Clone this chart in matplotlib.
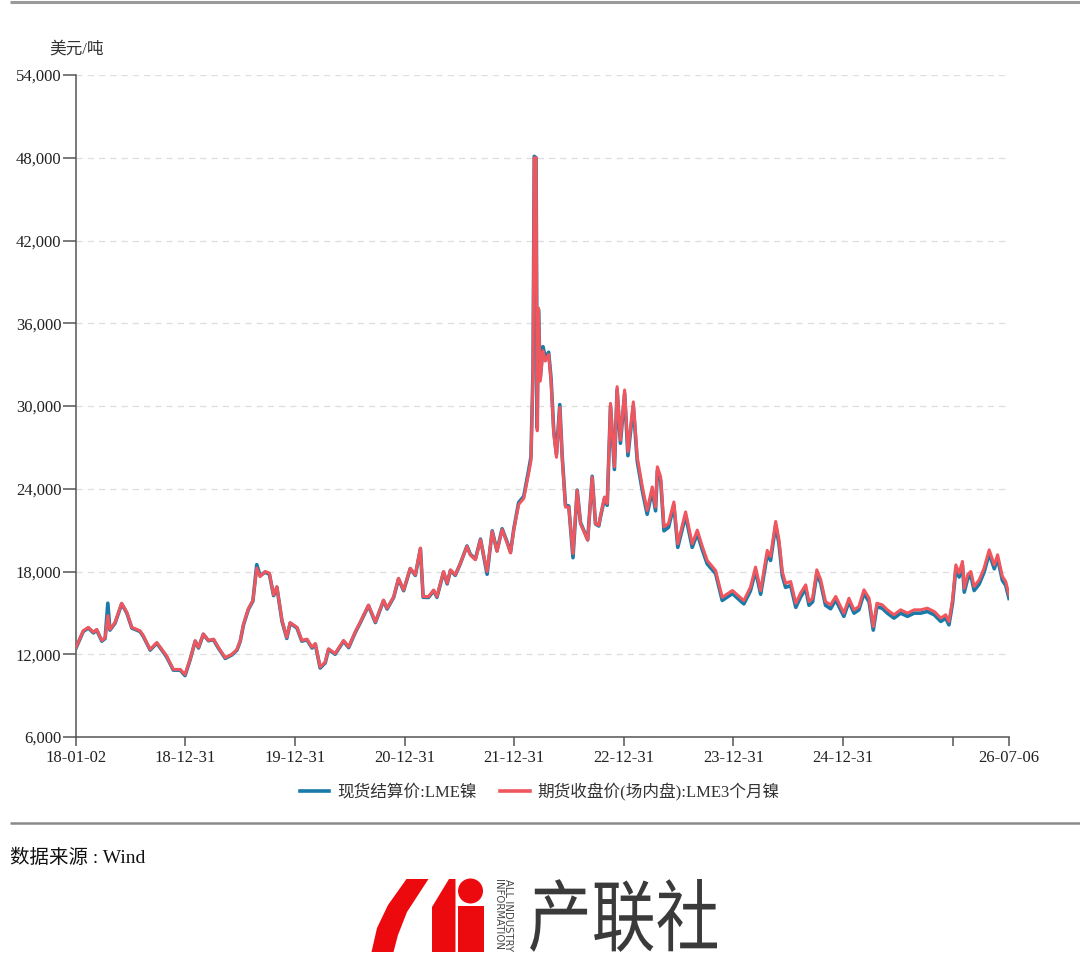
import numpy as np
import pandas as pd
import matplotlib
matplotlib.use("Agg")
import matplotlib.pyplot as plt
from matplotlib.lines import Line2D
from matplotlib.patches import Polygon, Circle, Rectangle, PathPatch
from matplotlib.textpath import TextPath
from matplotlib.font_manager import FontProperties
from matplotlib.transforms import Affine2D
from matplotlib.ticker import FuncFormatter

plt.rcParams['font.family'] = ['Liberation Serif', 'Noto Sans CJK SC']

# ---- data ----
dates = [
    # 2018
    '2018-01-02', '2018-01-26', '2018-02-12', '2018-03-01', '2018-03-12', '2018-03-29', '2018-04-09', '2018-04-18',
    '2018-04-25', '2018-05-12', '2018-06-03', '2018-06-20', '2018-07-07', '2018-08-03', '2018-08-14', '2018-09-06',
    '2018-09-28', '2018-10-15', '2018-10-31', '2018-11-22', '2018-12-15', '2018-12-31',
    # 2019
    '2019-01-17', '2019-02-03', '2019-02-14', '2019-03-02', '2019-03-19', '2019-04-05', '2019-04-21', '2019-05-14',
    '2019-06-05', '2019-06-22', '2019-07-03', '2019-07-14', '2019-07-30', '2019-08-14', '2019-08-27', '2019-09-07',
    '2019-09-24', '2019-10-08', '2019-10-22', '2019-11-02', '2019-11-19', '2019-12-05', '2019-12-16',
    # 2020
    '2020-01-08', '2020-01-24', '2020-02-10', '2020-02-27', '2020-03-09', '2020-03-25', '2020-04-11', '2020-04-22',
    '2020-05-14', '2020-06-11', '2020-06-28', '2020-07-20', '2020-08-06', '2020-09-02', '2020-09-25', '2020-10-22',
    '2020-11-03', '2020-11-25', '2020-12-11', '2020-12-28',
    # 2021
    '2021-01-19', '2021-02-05', '2021-02-22', '2021-03-03', '2021-03-21', '2021-04-07', '2021-04-18', '2021-05-10',
    '2021-05-22', '2021-06-02', '2021-06-18', '2021-07-05', '2021-07-27', '2021-08-07', '2021-08-24', '2021-09-10',
    '2021-10-02', '2021-10-19', '2021-11-04', '2021-11-21', '2021-12-08', '2021-12-19', '2021-12-30',
    # 2022
    '2022-01-15', '2022-02-01', '2022-02-17', '2022-02-25', '2022-03-04', '2022-03-08', '2022-03-14', '2022-03-18',
    '2022-03-22', '2022-03-28', '2022-04-06', '2022-04-14', '2022-04-25', '2022-05-03', '2022-05-12', '2022-05-21',
    '2022-06-01', '2022-06-09', '2022-06-20', '2022-07-01', '2022-07-15', '2022-07-29', '2022-08-09', '2022-09-02',
    '2022-09-17', '2022-09-28', '2022-10-09', '2022-10-14', '2022-10-28', '2022-11-06', '2022-11-17', '2022-11-30',
    '2022-12-09', '2022-12-20',
    # 2023
    '2023-01-03', '2023-01-14', '2023-02-01', '2023-02-14', '2023-03-03', '2023-03-19', '2023-04-05', '2023-04-16',
    '2023-04-22', '2023-05-03', '2023-05-14', '2023-05-29', '2023-06-16', '2023-06-29', '2023-07-25', '2023-08-16',
    '2023-09-02', '2023-09-19', '2023-10-05', '2023-11-02', '2023-11-24', '2023-12-28',
    # 2024
    '2024-02-04', '2024-02-26', '2024-03-14', '2024-03-31', '2024-04-22', '2024-05-03', '2024-05-20', '2024-05-31',
    '2024-06-11', '2024-06-22', '2024-07-09', '2024-07-26', '2024-08-11', '2024-08-28', '2024-09-08', '2024-09-20',
    '2024-10-04', '2024-10-17', '2024-11-02', '2024-11-19', '2024-12-06', '2024-12-17',
    # 2025
    '2025-01-02', '2025-01-19', '2025-02-05', '2025-02-21', '2025-03-10', '2025-03-27', '2025-04-10', '2025-04-22',
    '2025-05-10', '2025-05-27', '2025-06-18', '2025-07-10', '2025-08-02', '2025-08-24', '2025-09-15', '2025-10-07',
    '2025-10-30', '2025-11-21', '2025-12-07', '2025-12-18', '2025-12-30',
    # 2026
    '2026-01-10', '2026-01-21', '2026-02-01', '2026-02-07', '2026-02-18', '2026-03-01', '2026-03-12', '2026-03-29',
    '2026-04-14', '2026-05-01', '2026-05-18', '2026-05-29', '2026-06-14', '2026-06-25', '2026-07-06',
]

# 期货收盘价(场内盘):LME3个月镍
futures = [
    12500, 13700, 13950, 13600, 13800, 13000, 13200, 14800, 13800, 14300, 15700, 15050, 13950, 13700, 13350, 12350,
    12850, 12350, 11875, 10900, 10900, 10530,
    11630, 12980, 12490, 13470, 13000, 13100, 12500, 11750, 12000, 12350, 12980, 14200, 15300, 15900, 18250, 17630,
    18000, 17880, 16300, 16900, 14450, 13220, 14300,
    13950, 13000, 13100, 12500, 12780, 11070, 11440, 12400, 12050, 13000, 12530, 13630, 14350, 15570, 14350, 15930,
    15330, 16180, 17510, 16660,
    18240, 17760, 19700, 16180, 16180, 16660, 16180, 18000, 17150, 18120, 17760, 18600, 19820, 19200, 18850, 20300,
    18000, 20900, 19460, 21040, 20070, 19340, 21040,
    22860, 23300, 25080, 26040, 32300, 48000, 48000, 28200, 37100, 31800, 34000, 33260, 33740, 31800, 27960, 26280,
    29900, 26280, 22670, 22670, 19300, 23880, 21470, 20270, 24840, 21470, 21350, 21960, 23400, 22920, 30190, 25590,
    31400, 27530,
    31160, 26680, 30300, 26310, 24130, 22430, 24130, 22680, 25590, 24860, 21230, 21470, 23040, 20010, 22320, 20010,
    21000, 19800, 18800, 18070, 16130, 16620,
    15890, 16860, 18320, 16620, 19530, 19090, 21630, 20300, 18000, 17150, 17270, 15700, 16430, 17030, 15820, 16060,
    18120, 17400, 15820, 15580, 16190, 15700,
    14980, 16060, 15220, 15460, 16670, 16060, 14010, 15700, 15580, 15220, 14860, 15220, 14980, 15220, 15220, 15340,
    15100, 14620, 14860, 14370, 15950,
    18480, 17880, 18730, 16790, 17760, 18000, 16910, 17400, 18240, 19570, 18480, 19210, 17640, 17270, 16310,
]

# 现货结算价:LME镍
spot = [
    12450, 13650, 13900, 13550, 13750, 12950, 13150, 15700, 13750, 14250, 15650, 15000, 13900, 13650, 13300, 12300,
    12800, 12300, 11800, 10850, 10850, 10450,
    11600, 12950, 12450, 13450, 12980, 13050, 12450, 11700, 11950, 12300, 12950, 14150, 15250, 15850, 18500, 17700,
    17950, 17800, 16250, 16850, 14400, 13150, 14250,
    13900, 12950, 13050, 12450, 12720, 11000, 11380, 12340, 12000, 12950, 12480, 13580, 14300, 15520, 14300, 15880,
    15280, 16130, 17460, 16610,
    18200, 17720, 19650, 16130, 16120, 16600, 16130, 17950, 17100, 18080, 17720, 18580, 19850, 19250, 18900, 20350,
    17800, 20950, 19500, 21100, 20120, 19400, 21100,
    23000, 23450, 25300, 26300, 32600, 48100, 48000, 28400, 37000, 32000, 34300, 33500, 33900, 32000, 28200, 26500,
    30100, 26400, 22800, 22750, 19000, 23900, 21550, 20300, 24900, 21450, 21300, 21900, 23300, 22800, 30000, 25400,
    31200, 27300,
    30900, 26400, 30000, 26000, 23850, 22150, 23850, 22400, 25300, 24600, 20950, 21200, 22800, 19750, 22050, 19750,
    20750, 19550, 18550, 17850, 15900, 16400,
    15650, 16600, 18050, 16350, 19250, 18800, 21350, 20000, 17700, 16850, 16980, 15400, 16150, 16750, 15550, 15800,
    17850, 17150, 15550, 15300, 15950, 15450,
    14750, 15800, 14980, 15220, 16420, 15800, 13750, 15450, 15330, 14980, 14620, 14980, 14750, 14980, 14980, 15100,
    14860, 14380, 14620, 14130, 15700,
    18200, 17600, 18450, 16500, 17450, 17700, 16620, 17100, 17950, 19300, 18200, 18950, 17350, 17000, 16050,
]

xtick_dates = ['2018-01-02', '2018-12-31', '2019-12-31', '2020-12-31', '2021-12-31',
               '2022-12-31', '2023-12-31', '2024-12-31', '2025-12-31', '2026-07-06']
xtick_labels = ['18-01-02', '18-12-31', '19-12-31', '20-12-31', '21-12-31',
                '22-12-31', '23-12-31', '24-12-31', '', '26-07-06']
yticks = [6000, 12000, 18000, 24000, 30000, 36000, 42000, 48000, 54000]

series_names = ['现货结算价:LME镍', '期货收盘价(场内盘):LME3个月镍']
blue = '#1a7aa8'
red = '#f0565d'
axis_col = '#555555'
W, H = 1080, 957

x = pd.to_datetime(dates)

fig = plt.figure(figsize=(W / 100, H / 100), dpi=100)
fig.patch.set_facecolor('white')

ax = fig.add_axes([76 / W, 1 - 737 / H, (1009 - 76) / W, (737 - 75) / H])
ax.plot(x, spot, color=blue, lw=2.6, solid_joinstyle='round', zorder=3)
ax.plot(x, futures, color=red, lw=2.2, solid_joinstyle='round', zorder=4)

ax.set_xlim(pd.Timestamp('2018-01-02'), pd.Timestamp('2026-07-06'))
ax.set_ylim(6000, 54000)
ax.set_yticks(yticks)
ax.yaxis.set_major_formatter(FuncFormatter(lambda v, p: f'{v:,.0f}'))
ax.set_xticks(pd.to_datetime(xtick_dates))
ax.set_xticklabels(xtick_labels)

for s in ['top', 'right']:
    ax.spines[s].set_visible(False)
for s in ['left', 'bottom']:
    ax.spines[s].set_color(axis_col)
    ax.spines[s].set_linewidth(1.1)

ax.tick_params(axis='y', direction='out', length=9.5, width=1.1, color=axis_col,
               pad=1, labelsize=12, labelcolor='#222222')
ax.tick_params(axis='x', direction='out', length=6.5, width=1.1, color=axis_col,
               pad=3, labelsize=12, labelcolor='#222222')
ax.grid(True, axis='y', linestyle=(0, (5, 4)), color='#dedede', linewidth=0.9)
ax.set_axisbelow(True)

fig.text(49 / W, 1 - 50 / H, '美元/吨', fontsize=12, color='#333333', ha='left', va='center')

handles = [Line2D([], [], color=blue, lw=2.6), Line2D([], [], color=red, lw=2.6)]
fig.legend(handles, series_names, loc='center', bbox_to_anchor=(0.5, 1 - 792 / H), ncol=2,
           frameon=False, fontsize=12, handlelength=1.75, handletextpad=0.5, columnspacing=1.4,
           labelcolor='#333333')

# ---- decoration: rules, source, logo ----
deco = fig.add_axes([0, 0, 1, 1], zorder=-1)
deco.set_xlim(0, W)
deco.set_ylim(H, 0)
deco.axis('off')

deco.plot([10, W], [2, 2], color='#9a9a9a', lw=2.2, solid_capstyle='butt')
deco.plot([10, W], [823, 823], color='#8a8a8a', lw=1.8, solid_capstyle='butt')

fig.text(10 / W, 1 - 858 / H, '数据来源 : Wind', fontsize=14, color='#111111', ha='left', va='center')

logo_red = '#ec0a0f'
deco.add_patch(Polygon([(371.5, 952), (393.5, 952), (398, 935), (407, 912), (428.5, 879),
                        (406.5, 879), (388, 905), (377, 928)], closed=True, fc=logo_red, ec='none'))
deco.add_patch(Polygon([(432, 952), (455.5, 952), (455.5, 879), (449, 879), (432, 907)],
                       closed=True, fc=logo_red, ec='none'))
deco.add_patch(Circle((470.5, 891), 12.5, fc=logo_red, ec='none'))
deco.add_patch(Rectangle((457.5, 906), 26, 46, fc=logo_red, ec='none'))

deco.text(508, 879, 'ALL INDUSTRY', rotation=-90, ha='center', va='top', fontsize=7.3,
          color='#444444', family='DejaVu Sans')
deco.text(497.5, 879, 'INFORMATION', rotation=-90, ha='center', va='top', fontsize=7.3,
          color='#444444', family='DejaVu Sans')

tp = TextPath((0, 0), '产联社', size=100, prop=FontProperties(family='Noto Sans CJK SC'))
bb = tp.get_extents()
tr = Affine2D().translate(-bb.x0, -bb.y1).scale((717 - 530) / bb.width, -(952 - 879) / bb.height).translate(530, 879)
deco.add_patch(PathPatch(tr.transform_path(tp), fc='#3a3a3a', ec='none'))

fig.savefig('out.png', dpi=100, facecolor='white')
